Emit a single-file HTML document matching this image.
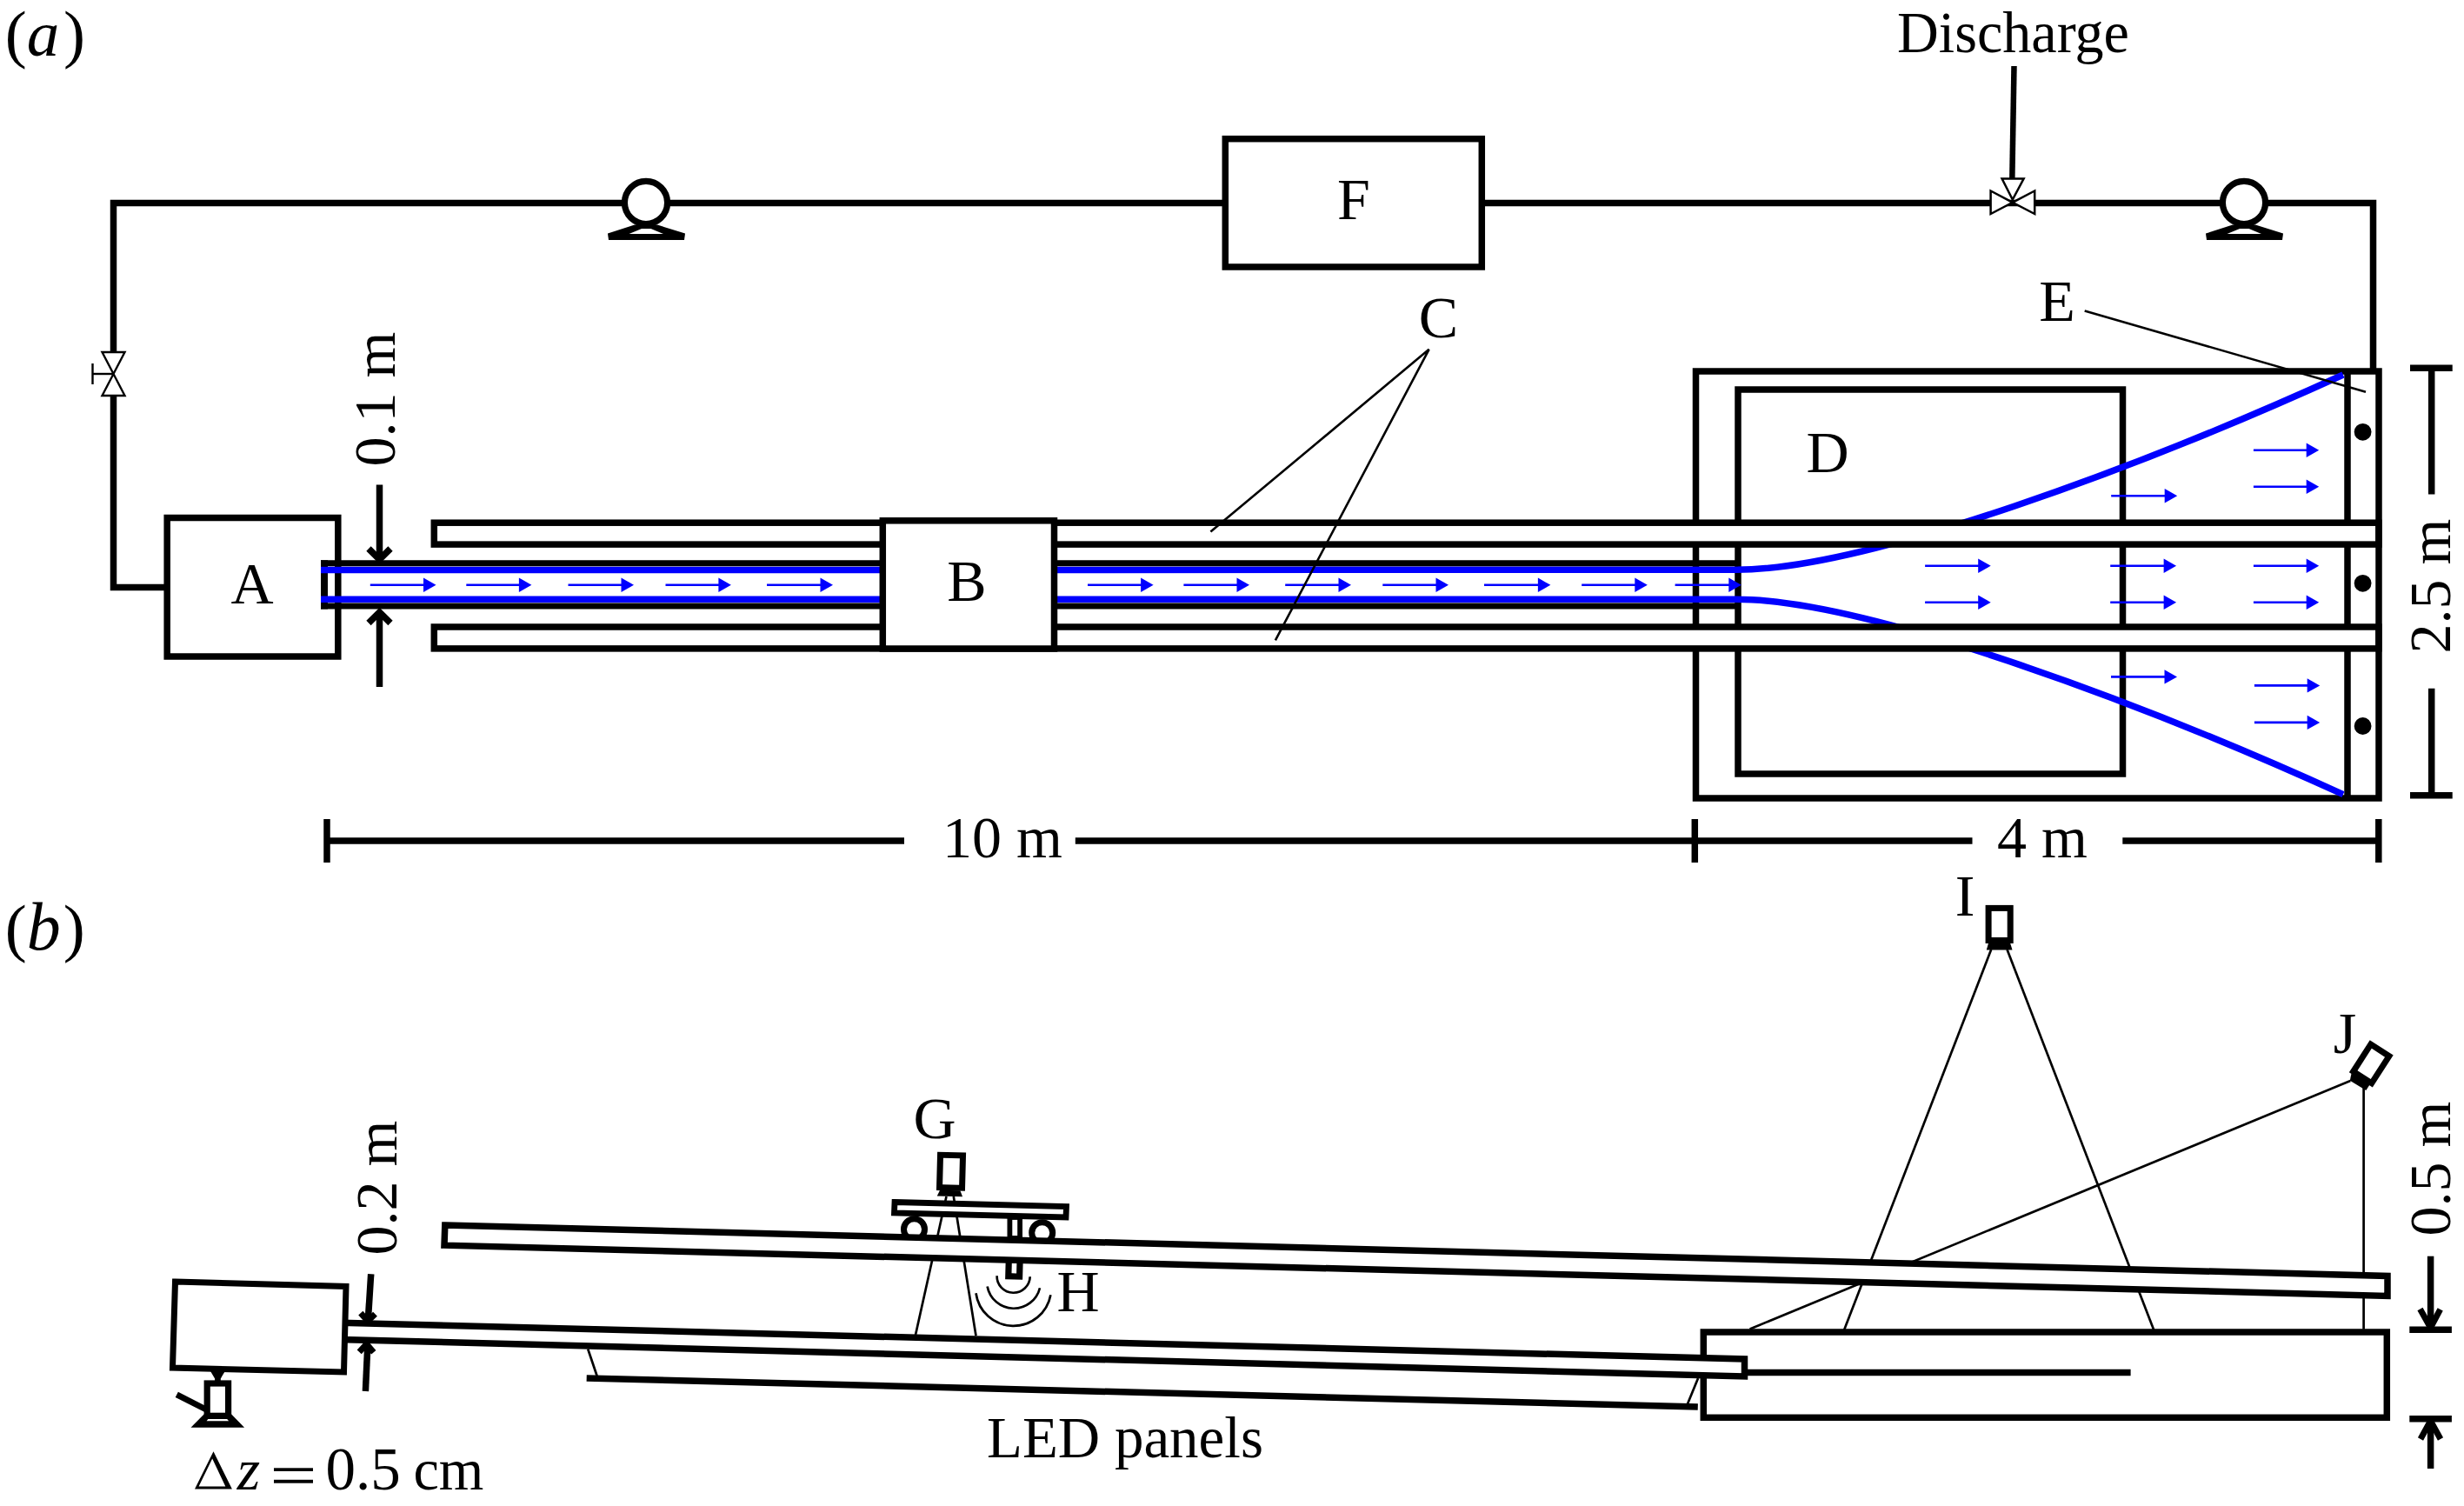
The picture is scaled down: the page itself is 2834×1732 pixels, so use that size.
<!DOCTYPE html>
<html><head><meta charset="utf-8"><style>
html,body{margin:0;padding:0;background:#fff;}
svg{display:block;}
</style></head><body>
<svg width="2834" height="1732" viewBox="0 0 2834 1732">
<rect width="2834" height="1732" fill="#fff"/>
<polyline points="192,675.5 130.5,675.5 130.5,455" fill="none" stroke="#000" stroke-width="7.5"/>
<polyline points="130.5,405 130.5,233.5 2729.5,233.5 2729.5,427" fill="none" stroke="#000" stroke-width="7.5"/>
<polygon points="117.5,405 143.5,405 130.5,430" fill="#fff" stroke="#000" stroke-width="2.4"/>
<polygon points="117.5,455 143.5,455 130.5,430" fill="#fff" stroke="#000" stroke-width="2.4"/>
<line x1="106" y1="430" x2="130.5" y2="430" stroke="#000" stroke-width="2.4"/>
<line x1="106.5" y1="418" x2="106.5" y2="442" stroke="#000" stroke-width="2.4"/>
<polygon points="699,268.5 730,258.5 756,258.5 788,268.5 787,276 700,276" fill="#000"/>
<polygon points="723.5,269 738,263 748.6,263 763,269" fill="#fff"/>
<circle cx="743" cy="233" r="24.6" fill="#fff" stroke="#000" stroke-width="7.2"/>
<polygon points="2537,268.5 2568,258.5 2594,258.5 2626,268.5 2625,276 2538,276" fill="#000"/>
<polygon points="2561.5,269 2576,263 2586.6,263 2601,269" fill="#fff"/>
<circle cx="2581" cy="233" r="24.6" fill="#fff" stroke="#000" stroke-width="7.2"/>
<rect x="1409.3" y="159.7" width="295" height="147.3" fill="#fff" stroke="#000" stroke-width="7.5"/>
<polygon points="2289.6,219.5 2314.8,232.8 2289.6,246" fill="#fff" stroke="#000" stroke-width="2.5"/>
<polygon points="2340.2,219.5 2314.8,232.8 2340.2,246" fill="#fff" stroke="#000" stroke-width="2.5"/>
<line x1="2316.5" y1="76" x2="2314.3" y2="206" stroke="#000" stroke-width="6.5"/>
<polygon points="2302.6,205.6 2327.6,205.6 2314.8,229.5" fill="#fff" stroke="#000" stroke-width="2.5"/>
<rect x="192.2" y="595.5" width="196.6" height="159.5" fill="#fff" stroke="#000" stroke-width="7.5"/>
<rect x="1950.5" y="427" width="785.5" height="491" fill="none" stroke="#000" stroke-width="7.5"/>
<rect x="1999" y="448" width="442.5" height="442" fill="none" stroke="#000" stroke-width="7.5"/>
<line x1="2700" y1="427" x2="2700" y2="918" stroke="#000" stroke-width="7.5"/>
<line x1="373" y1="644.3" x2="373" y2="700.5" stroke="#000" stroke-width="8"/>
<path d="M369 655.5 L1997 655.3 C2147.7 655.3 2467.7 534.5 2695 431" fill="none" stroke="#0000ff" stroke-width="7.5"/>
<path d="M369 689.3 L1997 689.3 C2147.7 689.3 2467.7 810.1 2695 913.6" fill="none" stroke="#0000ff" stroke-width="7.5"/>
<rect x="499.3" y="601.2" width="2236.5" height="24.9" fill="#fff" stroke="#000" stroke-width="7.5"/>
<rect x="499.3" y="721" width="2236.5" height="24.9" fill="#fff" stroke="#000" stroke-width="7.5"/>
<line x1="369" y1="647.8" x2="1999" y2="647.8" stroke="#000" stroke-width="7"/>
<line x1="369" y1="697" x2="1999" y2="697" stroke="#000" stroke-width="7"/>
<rect x="1015.3" y="598.8" width="197.2" height="147.2" fill="#fff" stroke="#000" stroke-width="7.5"/>
<line x1="425.8" y1="672.8" x2="488.0" y2="672.8" stroke="#0000ff" stroke-width="2.6"/>
<polygon points="487.0,664.5999999999999 501.5,672.8 487.0,681.0" fill="#0000ff"/>
<line x1="536.3" y1="672.8" x2="597.9" y2="672.8" stroke="#0000ff" stroke-width="2.6"/>
<polygon points="596.9,664.5999999999999 611.4,672.8 596.9,681.0" fill="#0000ff"/>
<line x1="653.5" y1="672.8" x2="715.5" y2="672.8" stroke="#0000ff" stroke-width="2.6"/>
<polygon points="714.5,664.5999999999999 729,672.8 714.5,681.0" fill="#0000ff"/>
<line x1="765.5" y1="672.8" x2="827.4" y2="672.8" stroke="#0000ff" stroke-width="2.6"/>
<polygon points="826.4,664.5999999999999 840.9,672.8 826.4,681.0" fill="#0000ff"/>
<line x1="882" y1="672.8" x2="944.5" y2="672.8" stroke="#0000ff" stroke-width="2.6"/>
<polygon points="943.5,664.5999999999999 958,672.8 943.5,681.0" fill="#0000ff"/>
<line x1="1251" y1="672.8" x2="1313.1" y2="672.8" stroke="#0000ff" stroke-width="2.6"/>
<polygon points="1312.1,664.5999999999999 1326.6,672.8 1312.1,681.0" fill="#0000ff"/>
<line x1="1361.4" y1="672.8" x2="1423.5" y2="672.8" stroke="#0000ff" stroke-width="2.6"/>
<polygon points="1422.5,664.5999999999999 1437,672.8 1422.5,681.0" fill="#0000ff"/>
<line x1="1478.2" y1="672.8" x2="1540.5" y2="672.8" stroke="#0000ff" stroke-width="2.6"/>
<polygon points="1539.5,664.5999999999999 1554,672.8 1539.5,681.0" fill="#0000ff"/>
<line x1="1590.3" y1="672.8" x2="1652.5" y2="672.8" stroke="#0000ff" stroke-width="2.6"/>
<polygon points="1651.5,664.5999999999999 1666,672.8 1651.5,681.0" fill="#0000ff"/>
<line x1="1707" y1="672.8" x2="1769.9" y2="672.8" stroke="#0000ff" stroke-width="2.6"/>
<polygon points="1768.9,664.5999999999999 1783.4,672.8 1768.9,681.0" fill="#0000ff"/>
<line x1="1819.2" y1="672.8" x2="1881.3" y2="672.8" stroke="#0000ff" stroke-width="2.6"/>
<polygon points="1880.3,664.5999999999999 1894.8,672.8 1880.3,681.0" fill="#0000ff"/>
<line x1="1926.6" y1="672.8" x2="1989.3" y2="672.8" stroke="#0000ff" stroke-width="2.6"/>
<polygon points="1988.3,664.5999999999999 2002.8,672.8 1988.3,681.0" fill="#0000ff"/>
<line x1="2214.1" y1="650.7" x2="2276.2" y2="650.7" stroke="#0000ff" stroke-width="2.6"/>
<polygon points="2275.2,642.5 2289.7,650.7 2275.2,658.9000000000001" fill="#0000ff"/>
<line x1="2214.1" y1="692.8" x2="2276.2" y2="692.8" stroke="#0000ff" stroke-width="2.6"/>
<polygon points="2275.2,684.5999999999999 2289.7,692.8 2275.2,701.0" fill="#0000ff"/>
<line x1="2428.2" y1="570.2" x2="2490.7" y2="570.2" stroke="#0000ff" stroke-width="2.6"/>
<polygon points="2489.7,562.0 2504.2,570.2 2489.7,578.4000000000001" fill="#0000ff"/>
<line x1="2427.2" y1="650.7" x2="2489.6" y2="650.7" stroke="#0000ff" stroke-width="2.6"/>
<polygon points="2488.6,642.5 2503.1,650.7 2488.6,658.9000000000001" fill="#0000ff"/>
<line x1="2427.2" y1="692.8" x2="2489.6" y2="692.8" stroke="#0000ff" stroke-width="2.6"/>
<polygon points="2488.6,684.5999999999999 2503.1,692.8 2488.6,701.0" fill="#0000ff"/>
<line x1="2428" y1="778.4" x2="2490.5" y2="778.4" stroke="#0000ff" stroke-width="2.6"/>
<polygon points="2489.5,770.1999999999999 2504,778.4 2489.5,786.6" fill="#0000ff"/>
<line x1="2591.9" y1="517.7" x2="2653.7" y2="517.7" stroke="#0000ff" stroke-width="2.6"/>
<polygon points="2652.7,509.50000000000006 2667.2,517.7 2652.7,525.9000000000001" fill="#0000ff"/>
<line x1="2591.9" y1="559.8" x2="2653.7" y2="559.8" stroke="#0000ff" stroke-width="2.6"/>
<polygon points="2652.7,551.5999999999999 2667.2,559.8 2652.7,568.0" fill="#0000ff"/>
<line x1="2591.9" y1="650.7" x2="2653.7" y2="650.7" stroke="#0000ff" stroke-width="2.6"/>
<polygon points="2652.7,642.5 2667.2,650.7 2652.7,658.9000000000001" fill="#0000ff"/>
<line x1="2591.9" y1="692.8" x2="2653.7" y2="692.8" stroke="#0000ff" stroke-width="2.6"/>
<polygon points="2652.7,684.5999999999999 2667.2,692.8 2652.7,701.0" fill="#0000ff"/>
<line x1="2592.9" y1="788.4" x2="2654.7" y2="788.4" stroke="#0000ff" stroke-width="2.6"/>
<polygon points="2653.7,780.1999999999999 2668.2,788.4 2653.7,796.6" fill="#0000ff"/>
<line x1="2592.9" y1="830.9" x2="2654.7" y2="830.9" stroke="#0000ff" stroke-width="2.6"/>
<polygon points="2653.7,822.6999999999999 2668.2,830.9 2653.7,839.1" fill="#0000ff"/>
<circle cx="2717.6" cy="496.8" r="9.9" fill="#000"/>
<circle cx="2717.6" cy="670.8" r="9.9" fill="#000"/>
<circle cx="2717.6" cy="835" r="9.9" fill="#000"/>
<polyline points="1392.4,611.6 1643.6,401.8 1466.9,736.4" fill="none" stroke="#000" stroke-width="2.6"/>
<line x1="2397.7" y1="357.5" x2="2721" y2="450.7" stroke="#000" stroke-width="2.6"/>
<line x1="436.5" y1="557.4" x2="436.5" y2="644" stroke="#000" stroke-width="7.5"/>
<polyline points="424,631 436.5,643.5 449,631" fill="none" stroke="#000" stroke-width="7.5"/>
<line x1="436.5" y1="704" x2="436.5" y2="790" stroke="#000" stroke-width="7.5"/>
<polyline points="424,716.5 436.5,704 449,716.5" fill="none" stroke="#000" stroke-width="7.5"/>
<line x1="2772" y1="423.3" x2="2820.7" y2="423.3" stroke="#000" stroke-width="7.5"/>
<line x1="2796.7" y1="423.3" x2="2796.7" y2="568.6" stroke="#000" stroke-width="7.5"/>
<line x1="2772" y1="914.7" x2="2820.7" y2="914.7" stroke="#000" stroke-width="7.5"/>
<line x1="2796.7" y1="791.7" x2="2796.7" y2="914.7" stroke="#000" stroke-width="7.5"/>
<line x1="376" y1="967" x2="1040" y2="967" stroke="#000" stroke-width="7.5"/>
<line x1="1236.8" y1="967" x2="2268.5" y2="967" stroke="#000" stroke-width="7.5"/>
<line x1="2441.3" y1="967" x2="2735.8" y2="967" stroke="#000" stroke-width="7.5"/>
<line x1="376" y1="942" x2="376" y2="992" stroke="#000" stroke-width="7.5"/>
<line x1="1949.3" y1="942" x2="1949.3" y2="992" stroke="#000" stroke-width="7.5"/>
<line x1="2735.8" y1="942" x2="2735.8" y2="992" stroke="#000" stroke-width="7.5"/>
<text y="64" font-family="Liberation Serif" font-size="75"><tspan x="5.7">(</tspan><tspan x="30.8" font-style="italic">a</tspan><tspan x="73.1">)</tspan></text>
<text x="2182" y="59.5" font-family="Liberation Serif" font-size="68" textLength="267" lengthAdjust="spacingAndGlyphs">Discharge</text>
<text x="1557" y="251.8" font-family="Liberation Serif" font-size="68" text-anchor="middle">F</text>
<text x="290" y="694" font-family="Liberation Serif" font-size="68" text-anchor="middle">A</text>
<text x="1112" y="691.2" font-family="Liberation Serif" font-size="68" text-anchor="middle">B</text>
<text x="1654.5" y="388" font-family="Liberation Serif" font-size="68" text-anchor="middle">C</text>
<text x="2102" y="543.4" font-family="Liberation Serif" font-size="68" text-anchor="middle">D</text>
<text x="2366" y="368.5" font-family="Liberation Serif" font-size="68" text-anchor="middle">E</text>
<text x="1153" y="986.4" font-family="Liberation Serif" font-size="68" text-anchor="middle">10 m</text>
<text x="2349" y="986.4" font-family="Liberation Serif" font-size="68" text-anchor="middle">4 m</text>
<text transform="translate(454,459) rotate(-90)" font-family="Liberation Serif" font-size="68" text-anchor="middle">0.1 m</text>
<text transform="translate(2817.9,674) rotate(-90)" font-family="Liberation Serif" font-size="68" text-anchor="middle">2.5 m</text>
<text y="1092" font-family="Liberation Serif" font-size="75"><tspan x="5.7">(</tspan><tspan x="30.7" font-style="italic" font-size="78">b</tspan><tspan x="72.7">)</tspan></text>
<rect x="1959.3" y="1532" width="786" height="98.3" fill="none" stroke="#000" stroke-width="7.5"/>
<line x1="2006" y1="1578.4" x2="2450.6" y2="1578.4" stroke="#000" stroke-width="7.5"/>
<line x1="2290.2" y1="1092" x2="2121" y2="1529.7" stroke="#000" stroke-width="2.7" fill="none"/>
<line x1="2308.5" y1="1092" x2="2477.3" y2="1529.7" stroke="#000" stroke-width="2.7" fill="none"/>
<line x1="2012.6" y1="1528.5" x2="2703.3" y2="1243" stroke="#000" stroke-width="2.7" fill="none"/>
<line x1="2718.6" y1="1250" x2="2718.6" y2="1528.7" stroke="#000" stroke-width="2.7" fill="none"/>
<line x1="1088.5" y1="1376" x2="1053" y2="1535.2" stroke="#000" stroke-width="2.7" fill="none"/>
<line x1="1096.8" y1="1376" x2="1122.5" y2="1536.2" stroke="#000" stroke-width="2.7" fill="none"/>
<line x1="674.7" y1="1585" x2="1952.8" y2="1618" stroke="#000" stroke-width="7.5"/>
<line x1="676.2" y1="1551.5" x2="686.6" y2="1582.3" stroke="#000" stroke-width="2.7" fill="none"/>
<line x1="1940.8" y1="1614.9" x2="1953.1" y2="1585" stroke="#000" stroke-width="2.7" fill="none"/>
<circle cx="1051.5" cy="1413.7" r="12" fill="#fff" stroke="#000" stroke-width="7"/>
<circle cx="1198.7" cy="1417.8" r="12" fill="#fff" stroke="#000" stroke-width="7"/>
<rect x="1161.4" y="1400" width="11.7" height="24" fill="#fff" stroke="#000" stroke-width="5.8"/>
<rect x="1159.8" y="1440" width="12.8" height="27.9" fill="#fff" stroke="#000" stroke-width="7.2" transform="rotate(1.5 1166 1468)"/>
<polygon points="511.8,1409 2746,1467.5 2746,1490.4 511,1432.2" fill="#fff" stroke="#000" stroke-width="7.5"/>
<polygon points="392,1521.2 2006.5,1563 2006.5,1583 392,1540.5" fill="#fff" stroke="#000" stroke-width="7.5"/>
<polygon points="201.5,1474 398,1479.5 395.5,1578 198.5,1573" fill="#fff" stroke="#000" stroke-width="7"/>
<polygon points="241.8,1576.5 259.1,1576.5 253.8,1585.4 253.8,1588.5 247.1,1588.5 247.1,1585.4" fill="#000"/>
<rect x="238.2" y="1591" width="24.4" height="37.3" fill="#fff" stroke="#000" stroke-width="7.2"/>
<polygon points="234.6,1626.6 266.2,1626.6 281.1,1641.7 219.5,1641.7" fill="#000"/>
<polygon points="239.4,1631.9 261.2,1631.9 263.1,1634.3 237.6,1634.3" fill="#fff"/>
<line x1="203.3" y1="1603.9" x2="237" y2="1621" stroke="#000" stroke-width="7"/>
<line x1="426.7" y1="1465.2" x2="423.4" y2="1517" stroke="#000" stroke-width="7.5"/>
<polyline points="414.8,1510.2 423,1519.2 431.5,1511.2" fill="none" stroke="#000" stroke-width="7"/>
<line x1="422.7" y1="1550" x2="420.4" y2="1600" stroke="#000" stroke-width="7.5"/>
<polyline points="413.2,1554.8 421.6,1545.8 429.8,1555.2" fill="none" stroke="#000" stroke-width="7"/>
<polygon points="1029,1382.5 1226.5,1387.5 1226,1400 1028.5,1395" fill="#fff" stroke="#000" stroke-width="6.8"/>
<g transform="rotate(1.5 1093.7 1360)">
<rect x="1080.7" y="1328.6" width="26" height="37.3" fill="#fff" stroke="#000" stroke-width="7"/>
<polygon points="1081.3,1369 1104.6,1369 1107.5,1376 1078.2,1376" fill="#000"/>
</g>
<path d="M1146.6 1467.2 A19 19 0 0 0 1184.7 1468.2" stroke="#000" stroke-width="2.7" fill="none"/>
<path d="M1135.6 1479.5 A30.9 30.9 0 0 0 1196 1481.2" stroke="#000" stroke-width="2.7" fill="none"/>
<path d="M1122.5 1487.2 A43.5 43.5 0 0 0 1208.4 1489.2" stroke="#000" stroke-width="2.7" fill="none"/>
<rect x="2287.1" y="1044.4" width="25.1" height="37.1" fill="#fff" stroke="#000" stroke-width="7"/>
<polygon points="2287.2,1084 2311.9,1084 2314.5,1092.4 2284.8,1092.4" fill="#000"/>
<g transform="translate(2727.2,1223.4) rotate(32.8) translate(-2299.6,-1063)">
<rect x="2287.1" y="1044.4" width="25.1" height="37.1" fill="#fff" stroke="#000" stroke-width="7"/>
</g>
<polygon points="2704.5,1234.5 2702.8,1242.8 2721.3,1253.9 2726.5,1246" fill="#000"/>
<line x1="2771.3" y1="1529.2" x2="2819.9" y2="1529.2" stroke="#000" stroke-width="7.5"/>
<line x1="2795.6" y1="1444.7" x2="2795.6" y2="1525" stroke="#000" stroke-width="7.5"/>
<polyline points="2783.5,1505.5 2795.5,1527 2806.7,1505.9" fill="none" stroke="#000" stroke-width="7" stroke-linejoin="bevel"/>
<line x1="2771.3" y1="1631.8" x2="2819.9" y2="1631.8" stroke="#000" stroke-width="7.5"/>
<line x1="2795.6" y1="1636" x2="2795.6" y2="1689" stroke="#000" stroke-width="7.5"/>
<polyline points="2784,1655 2795.5,1634 2807,1655" fill="none" stroke="#000" stroke-width="7" stroke-linejoin="bevel"/>
<text x="1075" y="1309" font-family="Liberation Serif" font-size="68" text-anchor="middle">G</text>
<text x="1240" y="1508.4" font-family="Liberation Serif" font-size="68" text-anchor="middle">H</text>
<text x="2260" y="1052.5" font-family="Liberation Serif" font-size="68" text-anchor="middle">I</text>
<text x="2697" y="1211.4" font-family="Liberation Serif" font-size="68" text-anchor="middle">J</text>
<text x="1135" y="1675.5" font-family="Liberation Serif" font-size="68" textLength="318" lengthAdjust="spacingAndGlyphs">LED panels</text>
<path d="M224 1712.5 L245.5 1669.2 L266.9 1712.5 Z M228.6 1709.4 L259.3 1709.4 L244.2 1677.6 Z" fill="#000" fill-rule="evenodd"/>
<text x="272.8" y="1712.5" font-family="Liberation Serif" font-size="68" font-style="italic">z</text>
<rect x="315" y="1688.3" width="45" height="3.7" fill="#000"/>
<rect x="315" y="1701.8" width="45" height="3.9" fill="#000"/>
<text x="374.6" y="1712.8" font-family="Liberation Serif" font-size="69">0.5</text>
<text x="475.4" y="1712.5" font-family="Liberation Serif" font-size="68" textLength="81" lengthAdjust="spacingAndGlyphs">cm</text>
<text transform="translate(455.9,1366) rotate(-90)" font-family="Liberation Serif" font-size="68" text-anchor="middle">0.2 m</text>
<text transform="translate(2817.5,1344) rotate(-90)" font-family="Liberation Serif" font-size="68" text-anchor="middle">0.5 m</text>
</svg>
</body></html>
